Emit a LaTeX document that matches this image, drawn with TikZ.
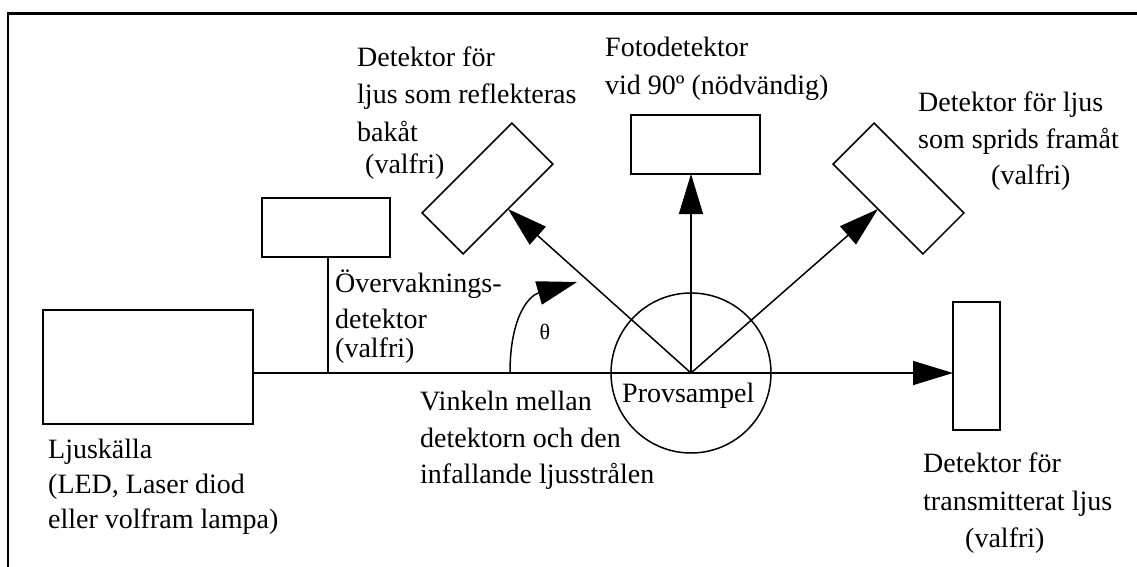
\documentclass[tikz,border=0pt]{standalone}
\usepackage{fontspec}
\setmainfont{Liberation Serif}
\usetikzlibrary{arrows.meta}
\begin{document}
\begin{tikzpicture}[x=1pt,y=-1pt,
  box/.style={draw, line width=1.8pt, inner sep=0pt, outer sep=0pt},
  tiltbox/.style={draw, line width=1.5pt, inner sep=0pt, outer sep=0pt,
    minimum width=127pt, minimum height=58pt},
  beam/.style={line width=1.5pt},
  ray/.style={line width=1.5pt, -{Triangle[length=40pt,width=24pt]}},
  lbl/.style={anchor=base west, inner sep=0pt, font=\fontsize{28}{34}\selectfont},
  ]
\useasboundingbox (0,0) rectangle (1137,567);
\fill[white] (0,0) rectangle (1137,567);
% frame
\draw[line width=2.5pt] (8,567) -- (8,13.5) -- (1137,13.5);

% components
\node[box, minimum width=210pt, minimum height=114pt] (src) at (148,367) {};
\node[box, minimum width=128pt, minimum height=59pt] (mon) at (326,227.5) {};
\node[box, minimum width=129pt, minimum height=59pt] (top) at (695.5,144.5) {};
\node[box, minimum width=47pt, minimum height=128pt] (trans) at (976.5,366) {};
\node[tiltbox, rotate=45] (back) at (487.5,188.5) {};
\node[tiltbox, rotate=-45] (fwd) at (898.5,188.5) {};
\node[draw, circle, line width=1.5pt, minimum size=160pt, inner sep=0pt] (smp) at (691,373) {};
\coordinate (S) at (691,373);
\coordinate (tap) at (328,373);
\coordinate (arcstart) at (510,373);
\coordinate (arcend) at (577,282);

% light path
\draw[beam] (src.east |- S) -- (S);
\draw[ray] (S) -- (S -| trans.west);
\draw[beam] (tap) -- (tap |- mon.south);
\draw[ray] (S) -- (S |- top.south);
\draw[ray] (S) -- (back.south);
\draw[ray] (S) -- (fwd.south);
\draw[ray] (arcstart) .. controls (510,318) and (528,296) .. (arcend);
\node[inner sep=0pt, font=\fontsize{22}{26}\selectfont] (theta) at (545,332) {θ};

% labels
\node[lbl] (bk1) at (357,67) {Detektor för};
\node[lbl] (bk2) at (357,104) {ljus som reflekteras};
\node[lbl] (bk3) at (357,142) {bakåt};
\node[lbl] (bk4) at (365,173) {(valfri)};

\node[lbl] (tp1) at (605,57) {Fotodetektor};
\node[lbl] (tp2) at (605,95) {vid 90º (nödvändig)};

\node[lbl] (fw1) at (918,112) {Detektor för ljus};
\node[lbl] (fw2) at (918,148) {som sprids framåt};
\node[lbl] (fw3) at (991,184) {(valfri)};

\node[lbl] (mn1) at (335,292) {Övervaknings-};
\node[lbl] (mn2) at (335,328) {detektor};
\node[lbl] (mn3) at (335,357) {(valfri)};

\node[lbl] (sm1) at (622,402) {Provsampel};

\node[lbl] (an1) at (420,410) {Vinkeln mellan};
\node[lbl] (an2) at (420,447) {detektorn och den};
\node[lbl] (an3) at (420,483) {infallande ljusstrålen};

\node[lbl] (ls1) at (48,458) {Ljuskälla};
\node[lbl] (ls2) at (48,493) {(LED, Laser diod};
\node[lbl] (ls3) at (48,528) {eller volfram lampa)};

\node[lbl] (tr1) at (923,472) {Detektor för};
\node[lbl] (tr2) at (923,510) {transmitterat ljus};
\node[lbl] (tr3) at (965,547) {(valfri)};
\end{tikzpicture}
\end{document}
